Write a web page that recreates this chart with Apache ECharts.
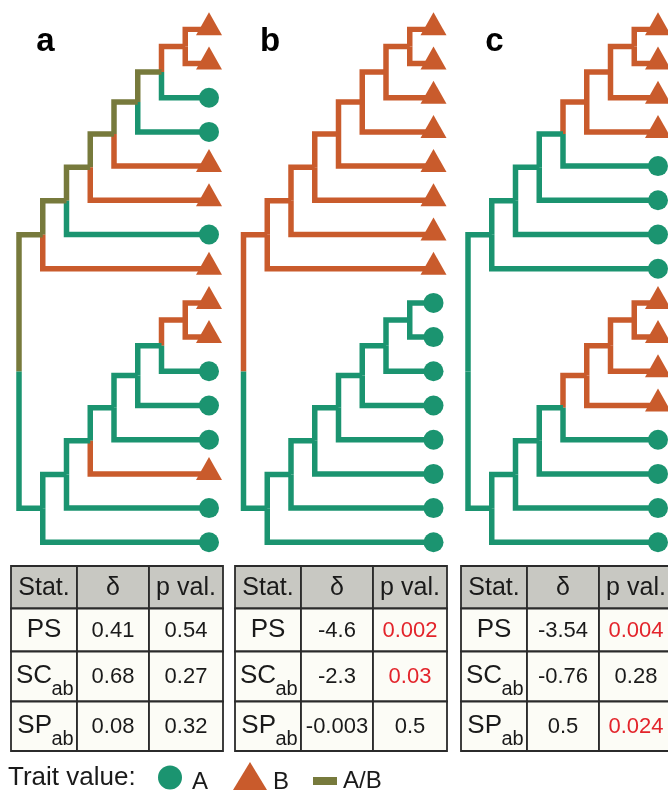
<!DOCTYPE html>
<html>
<head>
<meta charset="utf-8">
<script src="https://cdn.jsdelivr.net/npm/echarts@6/dist/echarts.min.js"></script>
<style>
html, body { margin: 0; padding: 0; background: #fff; }
#chart { width: 668px; height: 793px; }
</style>
</head>
<body>
<div id="chart"></div>
<script>
var stateColor = { A: '#1b9470', B: '#c95b2c', AB: '#777a3c' };

// same topology for the three trees, tips numbered top to bottom
var topology = [[[[[[[[0, 1], 2], 3], 4], 5], 6], 7],
                [[[[[[[8, 9], 10], 11], 12], 13], 14], 15]];

var panelNames = ['a', 'b', 'c'];

var tipStatesA = ['B', 'B', 'A', 'A', 'B', 'B', 'A', 'B', 'B', 'B', 'A', 'A', 'A', 'B', 'A', 'A'];
var tipStatesB = ['B', 'B', 'B', 'B', 'B', 'B', 'B', 'B', 'A', 'A', 'A', 'A', 'A', 'A', 'A', 'A'];
var tipStatesC = ['B', 'B', 'B', 'B', 'A', 'A', 'A', 'A', 'B', 'B', 'B', 'B', 'A', 'A', 'A', 'A'];

// internal node states in postorder (root excluded)
var nodeStatesA = ['B', 'AB', 'AB', 'AB', 'AB', 'AB', 'AB', 'B', 'A', 'A', 'A', 'A', 'A', 'A'];
var nodeStatesB = ['B', 'B', 'B', 'B', 'B', 'B', 'B', 'A', 'A', 'A', 'A', 'A', 'A', 'A'];
var nodeStatesC = ['B', 'B', 'B', 'A', 'A', 'A', 'A', 'B', 'B', 'B', 'A', 'A', 'A', 'A'];

var tableHead = ['Stat.', 'δ', 'p val.'];
var statNames = ['PS', 'SC', 'SP'];
var statSubs = ['', 'ab', 'ab'];
var deltaA = ['0.41', '0.68', '0.08'];
var pvalA = ['0.54', '0.27', '0.32'];
var deltaB = ['-4.6', '-2.3', '-0.003'];
var pvalB = ['0.002', '0.03', '0.5'];
var deltaC = ['-3.54', '-0.76', '0.5'];
var pvalC = ['0.004', '0.28', '0.024'];

var tipStates = [tipStatesA, tipStatesB, tipStatesC];
var nodeStates = [nodeStatesA, nodeStatesB, nodeStatesC];
var deltas = [deltaA, deltaB, deltaC];
var pvals = [pvalA, pvalB, pvalC];

var TIP_X = 8;
var treeLeft = [19, 243.5, 468];
var tableLeft = [11, 235, 461];
var colW = [66, 72, 74];
var rowY = [566, 608.5, 651.5, 701.5, 751];
var rowBase = [596.5, 639, 685, 735];
var font = 'Liberation Sans, Arial, Helvetica, sans-serif';

function buildBranches(tree, tips, nodes) {
    var segs = [], k = 0;
    function walk(n, depth) {
        if (typeof n === 'number') return { x: TIP_X, y: n, s: tips[n] };
        var kids = n.map(function (c) { return walk(c, depth + 1); });
        var me = { x: depth, y: (kids[0].y + kids[kids.length - 1].y) / 2 };
        kids.forEach(function (c) {
            segs.push({
                coords: [[me.x, me.y], [me.x, c.y], [c.x, c.y]],
                lineStyle: { color: stateColor[c.s] }
            });
        });
        if (depth > 0) me.s = nodes[k++];
        return me;
    }
    walk(tree, 0);
    return segs;
}

var grids = [], xAxes = [], yAxes = [], series = [], graphics = [];

for (var i = 0; i < 3; i++) {
    grids.push({ left: treeLeft[i], top: 29.3, width: 190, height: 513 });
    xAxes.push({ gridIndex: i, type: 'value', min: 0, max: TIP_X, show: false });
    yAxes.push({ gridIndex: i, type: 'value', min: 0, max: 15, inverse: true, show: false });

    series.push({
        type: 'lines',
        coordinateSystem: 'cartesian2d',
        xAxisIndex: i,
        yAxisIndex: i,
        polyline: true,
        silent: true,
        lineStyle: { width: 5.5, opacity: 1, cap: 'butt', join: 'miter' },
        data: buildBranches(topology, tipStates[i], nodeStates[i])
    });

    series.push({
        type: 'scatter',
        xAxisIndex: i,
        yAxisIndex: i,
        silent: true,
        z: 3,
        data: tipStates[i].map(function (s, j) {
            var isA = s === 'A';
            return {
                value: [TIP_X, j],
                symbol: isA ? 'circle' : 'triangle',
                symbolSize: isA ? 20 : [26, 23],
                symbolOffset: isA ? [0, 0] : [0, -5.5],
                itemStyle: { color: stateColor[s], opacity: 1 }
            };
        })
    });

    // panel letter
    graphics.push({
        type: 'text', x: treeLeft[i] + 26.5, y: 53 - 0.35 * 33,
        style: { text: panelNames[i], font: 'bold 33px ' + font, fill: '#000',
            align: 'center', verticalAlign: 'middle', textAlign: 'center', textVerticalAlign: 'middle' }
    });

    // table
    var x0 = tableLeft[i];
    for (var r = 0; r < 4; r++) {
        var cx = x0;
        for (var c = 0; c < 3; c++) {
            graphics.push({
                type: 'rect',
                shape: { x: cx, y: rowY[r], width: colW[c], height: rowY[r + 1] - rowY[r] },
                style: { fill: r === 0 ? '#c8c8c2' : '#fcfcf6', stroke: '#2b2b2b', lineWidth: 1.8 }
            });
            var txt, fs, col = '#1a1a1a';
            if (r === 0) { txt = tableHead[c]; fs = 25; }
            else if (c === 0) { txt = statNames[r - 1]; fs = 26; }
            else if (c === 1) { txt = deltas[i][r - 1]; fs = 22; }
            else {
                txt = pvals[i][r - 1]; fs = 22;
                if (parseFloat(txt) < 0.05) col = '#e3242b';
            }
            var hasSub = r > 0 && c === 0 && statSubs[r - 1];
            graphics.push({
                type: 'text',
                x: hasSub ? cx + 41 : cx + colW[c] / 2,
                y: rowBase[r] - 0.35 * fs,
                style: { text: txt, font: fs + 'px ' + font, fill: col,
                    align: hasSub ? 'right' : 'center', textAlign: hasSub ? 'right' : 'center',
                    verticalAlign: 'middle', textVerticalAlign: 'middle' }
            });
            if (hasSub) {
                graphics.push({
                    type: 'text',
                    x: cx + 40.5,
                    y: rowBase[r] + 11 - 0.35 * 20,
                    style: { text: statSubs[r - 1], font: '20px ' + font, fill: col,
                        align: 'left', textAlign: 'left', verticalAlign: 'middle', textVerticalAlign: 'middle' }
                });
            }
            cx += colW[c];
        }
    }
}

// legend
function legendText(t, x, base, fs) {
    return { type: 'text', x: x, y: base - 0.35 * fs,
        style: { text: t, font: fs + 'px ' + font, fill: '#1a1a1a',
            align: 'left', textAlign: 'left', verticalAlign: 'middle', textVerticalAlign: 'middle' } };
}
graphics.push(legendText('Trait value:', 8, 787, 26));
graphics.push({ type: 'circle', shape: { cx: 170, cy: 777.5, r: 12 }, style: { fill: stateColor.A } });
graphics.push(legendText('A', 192, 791, 24));
graphics.push({ type: 'polygon', shape: { points: [[233, 790], [250, 762], [267, 790]] }, style: { fill: stateColor.B } });
graphics.push(legendText('B', 273, 791, 24));
graphics.push({ type: 'rect', shape: { x: 313, y: 777, width: 24, height: 8 }, style: { fill: stateColor.AB } });
graphics.push(legendText('A/B', 343, 790, 24));

var chart = echarts.init(document.getElementById('chart'));
chart.setOption({
    animation: false,
    backgroundColor: '#ffffff',
    grid: grids,
    xAxis: xAxes,
    yAxis: yAxes,
    series: series,
    graphic: graphics
});
</script>
</body>
</html>
